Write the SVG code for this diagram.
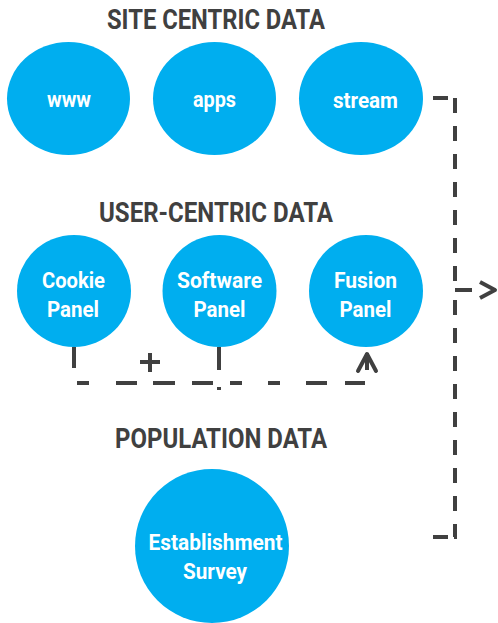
<svg xmlns="http://www.w3.org/2000/svg" width="498" height="623" viewBox="0 0 498 623">
  <style>
    .title { font-family: "Roboto", "Liberation Sans", sans-serif; font-weight: bold; font-size: 28px; fill: #404040; }
    .node { fill: #00AEEF; }
    .label { font-family: "Roboto", "Liberation Sans", sans-serif; font-weight: bold; font-size: 22.5px; fill: #ffffff; text-anchor: middle; }
    .link { fill: none; stroke: #404040; stroke-width: 4; }
    .dash { stroke-dasharray: 15 13; }
  </style>
  <rect width="498" height="623" fill="#ffffff"/>

  <!-- section headings -->
  <text class="title" x="107" y="29" textLength="218" lengthAdjust="spacingAndGlyphs">SITE CENTRIC DATA</text>
  <text class="title" x="99" y="222" textLength="234" lengthAdjust="spacingAndGlyphs">USER-CENTRIC DATA</text>
  <text class="title" x="115" y="448" textLength="212" lengthAdjust="spacingAndGlyphs">POPULATION DATA</text>

  <!-- site centric sources -->
  <g id="www">
    <ellipse class="node" cx="68.5" cy="98.5" rx="61.5" ry="56.5"/>
    <text class="label" x="69" y="107" textLength="44" lengthAdjust="spacingAndGlyphs">www</text>
  </g>
  <g id="apps">
    <ellipse class="node" cx="214.5" cy="98.5" rx="61.5" ry="56.5"/>
    <text class="label" x="214.5" y="107" textLength="43" lengthAdjust="spacingAndGlyphs">apps</text>
  </g>
  <g id="stream">
    <ellipse class="node" cx="361" cy="98.5" rx="62" ry="56.5"/>
    <text class="label" x="365.5" y="108" textLength="65" lengthAdjust="spacingAndGlyphs">stream</text>
  </g>

  <!-- user centric panels -->
  <g id="cookie-panel">
    <ellipse class="node" cx="74" cy="291" rx="57" ry="56"/>
    <text class="label" x="73.5" y="288" textLength="63" lengthAdjust="spacingAndGlyphs">Cookie</text>
    <text class="label" x="73" y="317" textLength="52" lengthAdjust="spacingAndGlyphs">Panel</text>
  </g>
  <g id="software-panel">
    <ellipse class="node" cx="219.5" cy="291" rx="57" ry="56"/>
    <text class="label" x="219.5" y="288" textLength="85" lengthAdjust="spacingAndGlyphs">Software</text>
    <text class="label" x="219.5" y="317" textLength="52" lengthAdjust="spacingAndGlyphs">Panel</text>
  </g>
  <g id="fusion-panel">
    <ellipse class="node" cx="366" cy="291" rx="57" ry="56"/>
    <text class="label" x="365.5" y="288" textLength="63" lengthAdjust="spacingAndGlyphs">Fusion</text>
    <text class="label" x="365.5" y="317" textLength="52" lengthAdjust="spacingAndGlyphs">Panel</text>
  </g>

  <!-- population source -->
  <g id="establishment-survey">
    <ellipse class="node" cx="212" cy="546" rx="77" ry="77"/>
    <text class="label" x="215.5" y="550" textLength="134" lengthAdjust="spacingAndGlyphs">Establishment</text>
    <text class="label" x="215" y="579" textLength="64" lengthAdjust="spacingAndGlyphs">Survey</text>
  </g>

  <!-- connectors -->
  <g id="connectors">
    <!-- cookie + software panels combine into the fusion panel -->
    <line class="link" x1="74" y1="347" x2="74" y2="368"/>
    <line class="link" x1="219" y1="347" x2="219" y2="370"/>
    <line class="link" x1="219" y1="387" x2="219" y2="390"/>
    <path class="link" d="M77 383 H365" stroke-dasharray="12 27 21 16 22 17 21 17 12 26 12 26 21 18 21 10"/>
    <path class="link" d="M367 353 V370"/>
    <path class="link" d="M358 371 L367 354 L376 371" stroke-width="5" stroke-linecap="round" stroke-linejoin="round"/>
    <path class="link" d="M150 353 V372 M140 362 H160"/>

    <!-- bracket gathering all sources into the output -->
    <line class="link" x1="433" y1="98" x2="448" y2="98"/>
    <path class="link dash" d="M455 98 V290"/>
    <path class="link dash" d="M455 300 V537"/>
    <path class="link" d="M455 290 H472"/>
    <path class="link" d="M480 282 L495 290 L480 298" stroke-width="4.5" stroke-linejoin="round"/>
    <line class="link" x1="433" y1="537" x2="448" y2="537"/>
    <line class="link" x1="454" y1="537" x2="457" y2="537"/>
  </g>
</svg>
